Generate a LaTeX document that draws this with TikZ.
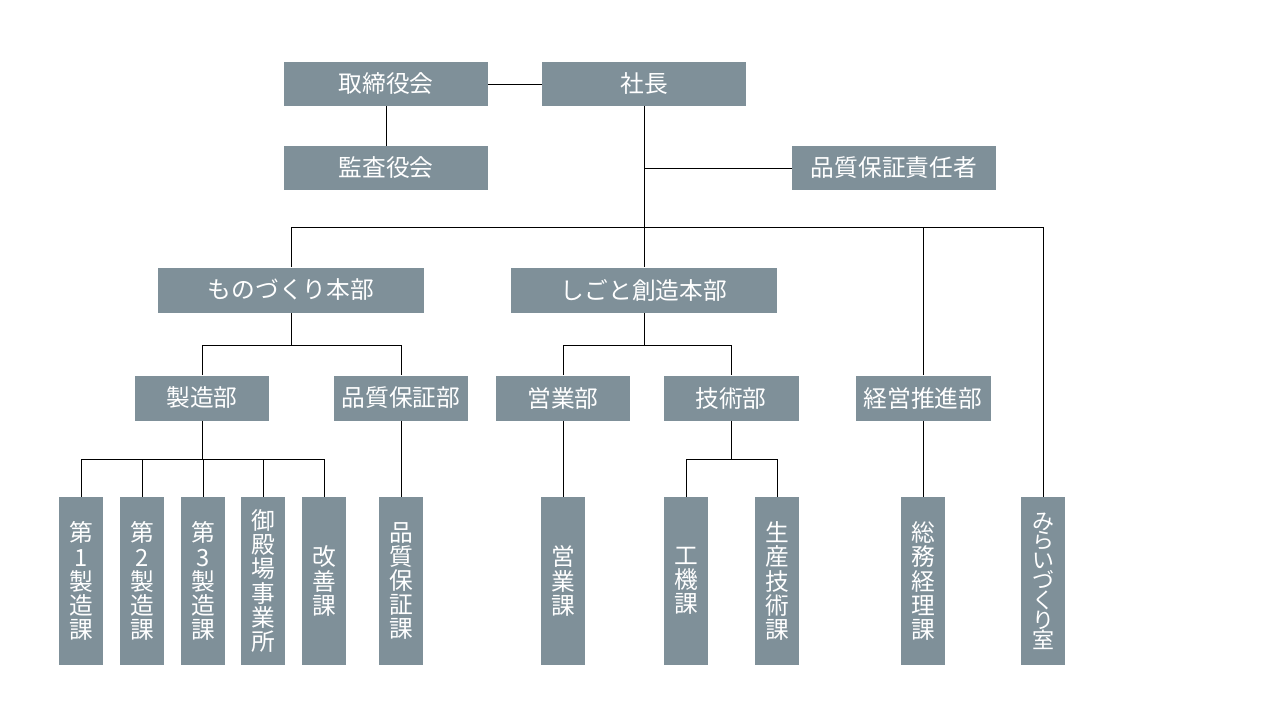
\documentclass[tikz,border=0pt]{standalone}
\usepackage{fontspec}
\usepackage{tikz}
\newfontfamily\jpfont{Noto Sans CJK JP}
\definecolor{Box}{HTML}{7F9099}
\definecolor{Ink}{HTML}{000000}

\begin{document}
\begin{tikzpicture}[x=0.02cm,y=-0.02cm,
    box/.style={fill=Box,text=white,inner sep=0pt,font=\jpfont\fontsize{13.5}{14}\selectfont},
    top/.style={box,minimum width=4.08cm,minimum height=0.88cm},
    hq/.style={box,minimum width=5.32cm,minimum height=0.9cm},
    dept/.style={box,minimum width=2.7cm,minimum height=0.9cm},
    sect/.style={box,minimum width=0.88cm,minimum height=3.36cm,align=center,
      font=\jpfont\fontsize{13.5}{13.7}\selectfont},
    wire/.style={Ink,line width=0.55pt}]
  \useasboundingbox (0,0) rectangle (1280,720);
  % top
  \node[top] (board) at (386,84) {取締役会};
  \node[top] (pres) at (644,84) {社長};
  \node[top] (audit) at (386,168) {監査役会};
  \node[top] (qa) at (894,168) {品質保証責任者};
  % head offices
  \node[hq] (mono) at (291,290) {ものづくり本部};
  \node[hq] (shigoto) at (644,290) {しごと創造本部};
  % departments
  \node[dept] (seizo) at (202,398) {製造部};
  \node[dept] (hinsho) at (401,398) {品質保証部};
  \node[dept] (eigyo) at (563,398) {営業部};
  \node[dept] (gijutsu) at (731,398) {技術部};
  \node[dept] (keiei) at (923,398) {経営推進部};
  % sections
  \foreach \n/\x/\t in {s1/81/{第\\1\\製\\造\\課},
      s2/142/{第\\2\\製\\造\\課},
      s3/203/{第\\3\\製\\造\\課},
      gotemba/263/{御\\殿\\場\\事\\業\\所},
      kaizen/324/{改\\善\\課},
      hinshoka/401/{品\\質\\保\\証\\課},
      eigyoka/563/{営\\業\\課},
      koki/686/{工\\機\\課},
      seisan/777/{生\\産\\技\\術\\課},
      somu/923/{総\\務\\経\\理\\課}}
    \node[sect] (\n) at (\x,581) {\t};
  \node[sect,font=\jpfont\fontsize{12.5}{11.3}\selectfont] (mirai) at (1043,581)
    {み\\ら\\い\\づ\\く\\り\\室};

  % bus coordinates
  \coordinate (topbus) at (644,227);
  \coordinate (monobus) at (291,345);
  \coordinate (shigotobus) at (644,345);
  \coordinate (seizobus) at (202,459);
  \coordinate (gijutsubus) at (731,459);

  \draw[wire] (board.east) -- (pres.west);
  \draw[wire] (board.south) -- (audit.north);
  \draw[wire] (pres.south) -- (shigoto.north);
  \draw[wire] (pres.south |- qa.west) -- (qa.west);
  \draw[wire] (mono.north) |- (mirai.north |- topbus) -- (mirai.north);
  \draw[wire] (keiei.north) -- (keiei.north |- topbus);

  \draw[wire] (mono.south) -- (monobus);
  \draw[wire] (seizo.north) |- (hinsho.north |- monobus) -- (hinsho.north);
  \draw[wire] (shigoto.south) -- (shigotobus);
  \draw[wire] (eigyo.north) |- (gijutsu.north |- shigotobus) -- (gijutsu.north);

  \draw[wire] (seizo.south) -- (seizobus);
  \draw[wire] (s1.north |- seizobus) -- (kaizen.north |- seizobus);
  \foreach \n in {s1,s2,s3,gotemba,kaizen}
    \draw[wire] (\n.north) -- (\n.north |- seizobus);
  \draw[wire] (hinsho.south) -- (hinshoka.north);
  \draw[wire] (eigyo.south) -- (eigyoka.north);
  \draw[wire] (gijutsu.south) -- (gijutsubus);
  \draw[wire] (koki.north) |- (seisan.north |- gijutsubus) -- (seisan.north);
  \draw[wire] (keiei.south) -- (somu.north);
\end{tikzpicture}
\end{document}
